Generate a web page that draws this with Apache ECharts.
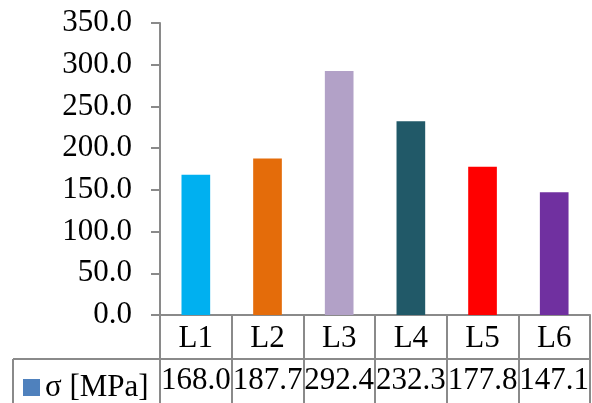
<!DOCTYPE html>
<html>
<head>
<meta charset="utf-8">
<script src="https://cdn.jsdelivr.net/npm/echarts@6/dist/echarts.min.js"></script>
<style>
  html, body { margin: 0; padding: 0; background: #fff; }
  #chart { width: 592px; height: 403px; }
</style>
</head>
<body>
<div id="chart"></div>
<script>
// Stress per specimen
const categories = ['L1', 'L2', 'L3', 'L4', 'L5', 'L6'];
const stressValues = [168.0, 187.7, 292.4, 232.3, 177.8, 147.1];
const barColors = ['#00B0F0', '#E46C0A', '#B2A1C7', '#215968', '#FF0000', '#7030A0'];
const seriesName = 'σ [MPa]';
const yTicks = { min: 0, max: 350, interval: 50 };

const FONT = '"Liberation Serif", "Times New Roman", serif';
const LINE = '#8a8a8a';
const chart = echarts.init(document.getElementById('chart'), null, { renderer: 'canvas' });

const option = {
  animation: false,
  backgroundColor: '#fff',
  grid: { left: 160, right: 1, top: 23, bottom: 88, containLabel: false },
  legend: {
    left: 23, top: 372,
    icon: 'rect', itemWidth: 17, itemHeight: 17, itemGap: 0,
    padding: 0,
    data: [{ name: seriesName, itemStyle: { color: '#4F81BD' } }],
    textStyle: { fontFamily: FONT, fontSize: 31, color: '#000', padding: [0, 0, 0, 0] },
    selectedMode: false
  },
  xAxis: [
    {
      type: 'category', data: categories, position: 'bottom',
      axisLine: { show: true, lineStyle: { color: LINE, width: 2 } },
      axisTick: { show: true, alignWithLabel: false, length: 88, lineStyle: { color: LINE, width: 2 } },
      axisLabel: { interval: 0, hideOverlap: false, fontFamily: FONT, fontSize: 31, color: '#000', margin: 8 }
    },
    {
      type: 'category', data: categories, position: 'bottom', offset: 44,
      axisLine: { show: false }, axisTick: { show: false },
      axisLabel: {
        interval: 0, hideOverlap: false,
        fontFamily: FONT, fontSize: 31, color: '#000', margin: 6,
        formatter: (v, i) => stressValues[i].toFixed(1)
      }
    }
  ],
  yAxis: {
    type: 'value', min: yTicks.min, max: yTicks.max, interval: yTicks.interval,
    axisLine: { show: true, lineStyle: { color: LINE, width: 2 } },
    axisTick: { show: true, inside: false, length: 9, lineStyle: { color: LINE, width: 2 } },
    splitLine: { show: false },
    axisLabel: { fontFamily: FONT, fontSize: 31, color: '#000', margin: 28, formatter: v => v.toFixed(1) }
  },
  series: [{
    name: seriesName, type: 'bar', xAxisIndex: 0, barWidth: '40%',
    itemStyle: { color: '#4F81BD' },
    data: stressValues.map((v, i) => ({ value: v, itemStyle: { color: barColors[i] } }))
  }]
};
chart.setOption(option);

// Data table rules below the plot: row divider, left border of the value row
const rowY = 315 + 44;
const right = chart.convertToPixel({ xAxisIndex: 0 }, categories[categories.length - 1]) + 36;
chart.setOption({
  graphic: [
    { type: 'line', shape: { x1: 13, y1: rowY, x2: right, y2: rowY }, style: { stroke: LINE, lineWidth: 2 } },
    { type: 'line', shape: { x1: 13, y1: rowY, x2: 13, y2: 403 }, style: { stroke: LINE, lineWidth: 2 } }
  ]
});
</script>
</body>
</html>
